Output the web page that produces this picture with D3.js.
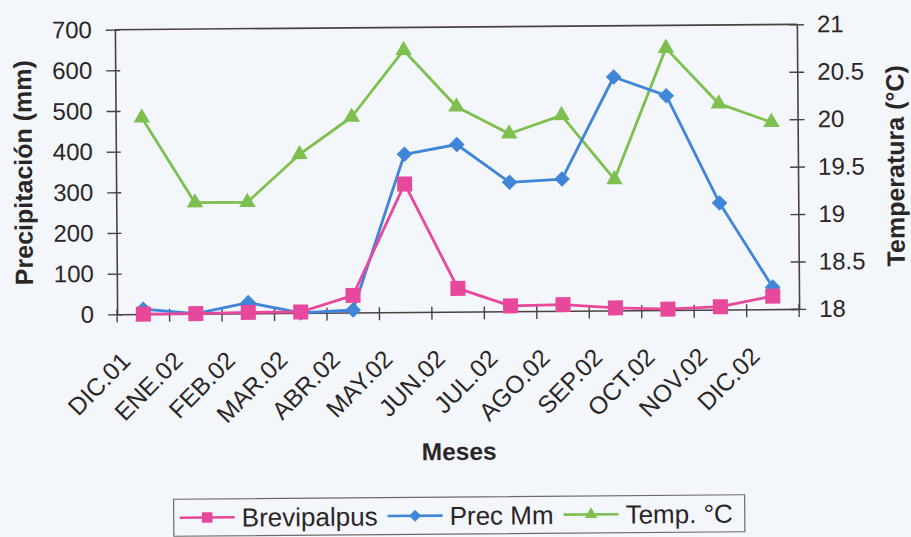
<!DOCTYPE html>
<html>
<head>
<meta charset="utf-8">
<script src="https://cdn.jsdelivr.net/npm/d3@7/dist/d3.min.js"></script>
<style>
  html, body { margin: 0; padding: 0; background: #f3f6fa; }
  svg { display: block; font-family: "Liberation Sans", Arial, sans-serif; }
</style>
</head>
<body>
<svg id="chart" width="911" height="537"></svg>
<script>
// Monthly series, Dec 2001 – Dec 2002
const months = ["DIC.01","ENE.02","FEB.02","MAR.02","ABR.02","MAY.02","JUN.02",
                "JUL.02","AGO.02","SEP.02","OCT.02","NOV.02","DIC.02"];
const brevipalpus = [0, 0, 2, 2, 42, 315, 57, 13, 15, 6, 2, 7, 32];
const precMm      = [12, 0, 26, 0, 6, 388, 411, 317, 324, 574, 527, 262, 54];
const tempC       = [20.07, 19.17, 19.17, 19.67, 20.06, 20.76, 20.16, 19.87, 20.06, 19.38, 20.76, 20.17, 19.97];

const precTicks = [0, 100, 200, 300, 400, 500, 600, 700];
const tempTicks = [18, 18.5, 19, 19.5, 20, 20.5, 21];

const legendNames = ["Brevipalpus", "Prec Mm", "Temp. °C"];
const colors = { pink: "#e8489c", blue: "#3f86d9", green: "#7ec04f" };

const plot = { left: 116, right: 798, top: 27, bottom: 311.6 };
const ink = "#4a4242";
const textInk = "#2b2626";

const svg = d3.select("#chart");
// the whole page is very slightly tilted
const root = svg.append("g").attr("transform", "rotate(-0.45 457 170)");

const x = d3.scaleBand().domain(months).range([plot.left, plot.right]).padding(0);
const yL = d3.scaleLinear().domain([0, 700]).range([plot.bottom, plot.top]);
const yR = d3.scaleLinear().domain([18, 21]).range([plot.bottom, plot.top]);
const cx = d => x(d) + x.bandwidth() / 2;

// plot frame (top edge)
root.append("line")
  .attr("x1", plot.left).attr("x2", plot.right)
  .attr("y1", plot.top).attr("y2", plot.top)
  .attr("stroke", ink).attr("stroke-width", 1.6);

// left axis, ticks crossing the line
const leftAx = root.append("g").attr("transform", `translate(${plot.left},0)`)
  .call(d3.axisLeft(yL).tickValues(precTicks).tickSize(0).tickPadding(23));
leftAx.select(".domain").attr("stroke", ink).attr("stroke-width", 1.6);
leftAx.selectAll(".tick").append("line").attr("x1", -9).attr("x2", 5)
  .attr("stroke", ink).attr("stroke-width", 1.4);
leftAx.selectAll("text").attr("font-size", 24).attr("fill", textInk)
  .attr("font-family", "Liberation Sans, Arial, sans-serif");

// right axis
const rightAx = root.append("g").attr("transform", `translate(${plot.right},0)`)
  .call(d3.axisRight(yR).tickValues(tempTicks).tickSize(0).tickPadding(20)
        .tickFormat(d => String(d)));
rightAx.select(".domain").attr("stroke", ink).attr("stroke-width", 1.6);
rightAx.selectAll(".tick").append("line").attr("x1", -8).attr("x2", 7)
  .attr("stroke", ink).attr("stroke-width", 1.4);
rightAx.selectAll("text").attr("font-size", 24).attr("fill", textInk)
  .attr("font-family", "Liberation Sans, Arial, sans-serif");

// bottom axis: tick marks sit between categories
const bottomAx = root.append("g").attr("transform", `translate(0,${plot.bottom})`)
  .call(d3.axisBottom(x).tickSize(0).tickFormat(""));
bottomAx.select(".domain").attr("stroke", ink).attr("stroke-width", 1.6);
bottomAx.selectAll(".tick").remove();
const bounds = months.map(m => x(m)).concat([plot.right]);
bottomAx.selectAll("line.sep").data(bounds).join("line").attr("class", "sep")
  .attr("x1", d => d).attr("x2", d => d).attr("y1", -5).attr("y2", 8)
  .attr("stroke", ink).attr("stroke-width", 1.4);

// rotated month labels
root.append("g").selectAll("text").data(months).join("text")
  .attr("transform", d => `translate(${cx(d) - 12},${360}) rotate(-45)`)
  .attr("text-anchor", "end")
  .attr("font-size", 24.5).attr("fill", textInk)
  .text(d => d);

// axis titles
root.append("text")
  .attr("transform", `translate(32,${(plot.top + plot.bottom) / 2}) rotate(-90)`)
  .attr("text-anchor", "middle").attr("font-weight", "bold")
  .attr("font-size", 25).attr("fill", textInk)
  .text("Precipitación (mm)");
root.append("text")
  .attr("transform", `translate(904,${(plot.top + plot.bottom) / 2}) rotate(-90)`)
  .attr("text-anchor", "middle").attr("font-weight", "bold")
  .attr("font-size", 25).attr("fill", textInk)
  .text("Temperatura (°C)");
root.append("text")
  .attr("x", (plot.left + plot.right) / 2).attr("y", 460)
  .attr("text-anchor", "middle").attr("font-weight", "bold")
  .attr("font-size", 24.5).attr("fill", textInk)
  .text("Meses");

// marker shapes
const diamond = r => `M0,${-r}L${r},0L0,${r}L${-r},0Z`;
const square = s => d3.symbol().type(d3.symbolSquare).size(s * s)();
const triangle = s => d3.symbol().type(d3.symbolTriangle).size(0.433 * s * s)();

const series = [
  { name: legendNames[0], values: brevipalpus, y: yL, color: colors.pink,
    mark: square(15), legendMark: square(10.5) },
  { name: legendNames[1], values: precMm, y: yL, color: colors.blue,
    mark: diamond(7.8), legendMark: diamond(6) },
  { name: legendNames[2], values: tempC, y: yR, color: colors.green,
    mark: triangle(16.5), legendMark: triangle(12.5) }
];

// green first, then blue, pink on top
[series[2], series[1], series[0]].forEach(s => {
  const line = d3.line().x((d, i) => cx(months[i])).y(d => s.y(d));
  root.append("path").datum(s.values)
    .attr("d", line).attr("fill", "none")
    .attr("stroke", s.color).attr("stroke-width", 2.8).attr("stroke-linejoin", "round");
  root.append("g").selectAll("path").data(s.values).join("path")
    .attr("transform", (d, i) => `translate(${cx(months[i])},${s.y(d)})`)
    .attr("d", s.mark).attr("fill", s.color);
});

// legend
const lg = root.append("g");
const lgBox = { x: 171, y: 497, h: 37 };
const lgRect = lg.append("rect").attr("x", lgBox.x).attr("y", lgBox.y).attr("height", lgBox.h)
  .attr("fill", "none").attr("stroke", "#6f6a6a").attr("stroke-width", 1.2);
let cursor = lgBox.x + 6;
const cyL = lgBox.y + lgBox.h / 2;
series.forEach(s => {
  lg.append("line").attr("x1", cursor).attr("x2", cursor + 55).attr("y1", cyL).attr("y2", cyL)
    .attr("stroke", s.color).attr("stroke-width", 2.6);
  lg.append("path").attr("transform", `translate(${cursor + 27.5},${cyL})`)
    .attr("d", s.legendMark).attr("fill", s.color);
  const t = lg.append("text").attr("x", cursor + 62).attr("y", cyL).attr("dy", "0.36em")
    .attr("font-size", 26).attr("fill", textInk).text(s.name);
  cursor += 62 + t.node().getComputedTextLength() + 10;
});
lgRect.attr("width", cursor - lgBox.x + 2);
</script>
</body>
</html>
